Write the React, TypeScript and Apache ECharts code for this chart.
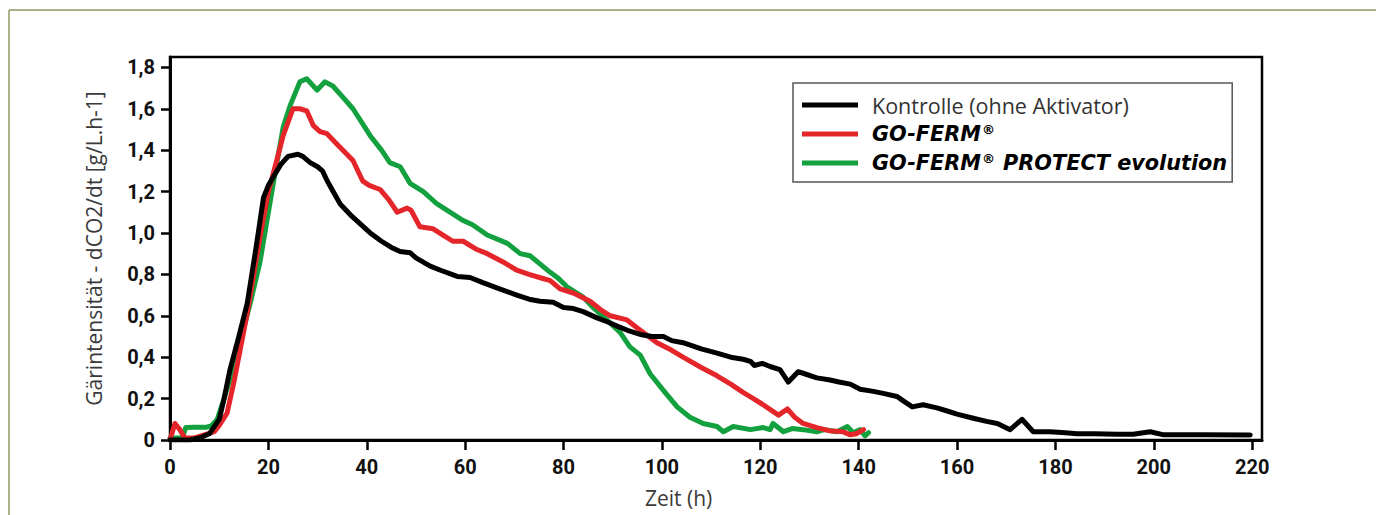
import React, { useEffect, useRef } from "react";
import * as echarts from "echarts";

const seriesNames = ["Kontrolle (ohne Aktivator)", "GO-FERM®", "GO-FERM® PROTECT evolution"];
const seriesColors = ["#000000", "#e4262a", "#13a03e"];

const xTicks = [0, 20, 40, 60, 80, 100, 120, 140, 160, 180, 200, 220];
const yTicks = [0, 0.2, 0.4, 0.6, 0.8, 1.0, 1.2, 1.4, 1.6, 1.8];

const kontrolleTime = [0, 2, 4, 6, 8, 10, 11, 12.2, 14, 15.7, 17.5, 19, 20, 21, 22.5, 24, 26, 27, 28.5, 30, 31, 32, 34.6, 37, 40.7, 43, 45, 46.8, 48.8, 50, 52.9, 55, 58.4, 61, 63.6, 67, 70.5, 73, 75.2, 77.9, 80, 82, 84, 86.8, 89, 90.9, 93, 95.6, 98, 100.3, 102, 104.3, 108, 111.2, 114, 116.5, 118, 118.8, 120.4, 122, 124, 125.7, 127.7, 129, 131.5, 134.2, 136, 138.3, 140.3, 143, 145, 147.8, 149, 150.9, 153.1, 155.9, 158, 160, 163.3, 166, 168.2, 170.8, 173.2, 175.5, 178.9, 182, 184.4, 188, 192.5, 195.8, 199.3, 202, 210, 219.6];
const kontrolleValue = [0, 0, 0, 0.01, 0.03, 0.1, 0.2, 0.34, 0.5, 0.66, 0.93, 1.17, 1.23, 1.27, 1.33, 1.37, 1.38, 1.37, 1.34, 1.32, 1.3, 1.25, 1.14, 1.08, 1.0, 0.96, 0.93, 0.91, 0.905, 0.88, 0.84, 0.82, 0.79, 0.785, 0.76, 0.73, 0.7, 0.68, 0.67, 0.665, 0.64, 0.635, 0.62, 0.59, 0.57, 0.55, 0.53, 0.51, 0.5, 0.5, 0.48, 0.47, 0.44, 0.42, 0.4, 0.39, 0.38, 0.36, 0.37, 0.355, 0.34, 0.28, 0.33, 0.32, 0.3, 0.29, 0.28, 0.27, 0.245, 0.235, 0.225, 0.21, 0.19, 0.16, 0.17, 0.155, 0.14, 0.125, 0.105, 0.09, 0.08, 0.05, 0.1, 0.04, 0.04, 0.035, 0.03, 0.03, 0.028, 0.028, 0.04, 0.025, 0.025, 0.024];

const gofermTime = [0, 1, 2, 3, 5, 7, 9, 10, 11.6, 13, 15.6, 18.3, 20, 21.7, 23, 25, 26.4, 27.8, 29.1, 30.5, 31.9, 33.9, 37.2, 39.2, 40.5, 42.7, 44.5, 46.2, 48.2, 49, 50.8, 53.5, 55.5, 57.5, 59.6, 62.4, 64.5, 67.7, 70.5, 73, 75.8, 77.3, 79.3, 82, 85.4, 87.5, 89.5, 92.9, 95.6, 99, 101.5, 104.3, 108, 111.2, 114, 116.5, 118.6, 120.6, 123.7, 125.5, 127, 128.7, 131.5, 134, 136.8, 138.3, 139.5, 141];
const gofermValue = [0, 0.08, 0.05, 0.01, 0.01, 0.025, 0.04, 0.07, 0.13, 0.28, 0.6, 0.98, 1.2, 1.35, 1.47, 1.6, 1.6, 1.59, 1.52, 1.49, 1.48, 1.43, 1.35, 1.25, 1.23, 1.21, 1.16, 1.1, 1.12, 1.11, 1.03, 1.02, 0.99, 0.96, 0.96, 0.92, 0.9, 0.86, 0.82, 0.8, 0.78, 0.77, 0.73, 0.71, 0.67, 0.63, 0.6, 0.58, 0.53, 0.47, 0.44, 0.4, 0.35, 0.31, 0.27, 0.23, 0.2, 0.17, 0.12, 0.15, 0.11, 0.08, 0.06, 0.045, 0.04, 0.025, 0.03, 0.05];

const protectTime = [0, 2.5, 3.2, 5, 7.5, 8.5, 9.6, 11, 12.8, 16.3, 18.3, 19.5, 21, 23, 24.5, 26.4, 27.8, 29.9, 31.5, 33.1, 35, 37.2, 40.7, 43, 44.7, 46.8, 48.8, 51.5, 54.3, 57, 59.6, 61.5, 64.5, 68.6, 71.2, 73.2, 77.3, 79, 80.7, 84, 86, 88.8, 91.5, 93.5, 95.6, 97.6, 100.3, 103.1, 105.7, 108.4, 111.2, 112.5, 114.5, 118, 120.6, 122, 122.6, 124.7, 126.5, 128.7, 131.5, 133, 135.6, 137.7, 138.9, 140.3, 141.3, 142];
const protectValue = [0.01, 0.01, 0.06, 0.062, 0.062, 0.07, 0.1, 0.2, 0.34, 0.66, 0.86, 1.03, 1.24, 1.51, 1.62, 1.73, 1.745, 1.69, 1.73, 1.71, 1.66, 1.6, 1.47, 1.4, 1.34, 1.32, 1.24, 1.2, 1.14, 1.1, 1.06, 1.04, 0.99, 0.95, 0.9, 0.89, 0.81, 0.78, 0.74, 0.69, 0.64, 0.58, 0.52, 0.45, 0.41, 0.32, 0.24, 0.16, 0.11, 0.08, 0.065, 0.04, 0.065, 0.05, 0.06, 0.05, 0.08, 0.04, 0.055, 0.05, 0.04, 0.05, 0.04, 0.065, 0.035, 0.05, 0.02, 0.035];

const yAxisTitle = "Gärintensität - dCO2/dt [g/L.h-1]";
const xAxisTitle = "Zeit (h)";

function pairs(t: number[], v: number[]) {
  return t.map((x, i) => [x, v[i]]);
}

function legendLabel(name: string) {
  if (name === seriesNames[0]) return `{reg|${name}}`;
  const parts = name.split("®");
  return parts.map((p, i) => (p ? `{bi|${p}}` : "") + (i < parts.length - 1 ? "{sup|®}" : "")).join("");
}

export default function App() {
  const ref = useRef<HTMLDivElement>(null);
  useEffect(() => {
    if (!ref.current) return;
    const chart = echarts.init(ref.current, null, { renderer: "svg" });
    const tickFont = { fontFamily: "Roboto", fontWeight: "bold" as const, fontSize: 20, color: "#111" };
    const datasets = [
      pairs(kontrolleTime, kontrolleValue),
      pairs(gofermTime, gofermValue),
      pairs(protectTime, protectValue),
    ];
    chart.setOption({
      animation: false,
      backgroundColor: "#ffffff",
      grid: { left: 170, right: 124, top: 57, bottom: 75, show: true, borderColor: "#000", borderWidth: 2.5, backgroundColor: "transparent" },
      xAxis: {
        type: "value",
        min: 0,
        max: 222,
        splitLine: { show: false },
        axisLine: { show: true, onZero: false, lineStyle: { color: "#000", width: 3 } },
        axisTick: { show: true, length: 10, lineStyle: { color: "#000", width: 2.5 }, customValues: xTicks },
        axisLabel: { ...tickFont, margin: 17, customValues: xTicks, formatter: (v: number) => String(v) },
      },
      yAxis: {
        type: "value",
        min: 0,
        max: 1.85,
        splitLine: { show: false },
        axisLine: { show: true, onZero: false, lineStyle: { color: "#000", width: 3 } },
        axisTick: { show: true, length: 9, lineStyle: { color: "#000", width: 2.5 }, customValues: yTicks },
        axisLabel: {
          ...tickFont,
          margin: 15,
          customValues: yTicks,
          formatter: (v: number) => (v === 0 ? "0" : v.toFixed(1).replace(".", ",")),
        },
        name: yAxisTitle,
        nameLocation: "middle",
        nameGap: 66,
        nameRotate: 90,
        nameTextStyle: { fontFamily: "Open Sans", fontSize: 21, color: "#3a3a3a" },
      },
      legend: {
        orient: "vertical",
        left: 793,
        top: 83,
        padding: [11, 5, 8, 9],
        itemGap: 7,
        itemWidth: 56,
        itemHeight: 5,
        icon: "rect",
        borderColor: "#555",
        borderWidth: 1.5,
        backgroundColor: "#fff",
        data: seriesNames,
        formatter: legendLabel,
        textStyle: {
          padding: [0, 0, 0, 9],
          rich: {
            reg: { fontFamily: "Open Sans", fontSize: 21.5, color: "#333", lineHeight: 22 },
            bi: { fontFamily: "DejaVu Sans", fontSize: 20.8, fontWeight: "bold", fontStyle: "italic", color: "#000", lineHeight: 22 },
            sup: { fontFamily: "DejaVu Sans", fontSize: 13, fontWeight: "bold", color: "#000", lineHeight: 22, padding: [0, 1, 9, 1] },
          },
        },
      },
      graphic: [
        { type: "line", shape: { x1: 9, y1: 10, x2: 1376, y2: 10 }, style: { stroke: "#8c9a63", lineWidth: 1.5 } },
        { type: "line", shape: { x1: 9, y1: 10, x2: 9, y2: 515 }, style: { stroke: "#8c9a63", lineWidth: 1.5 } },
        {
          type: "text",
          left: 645,
          top: 487,
          style: { text: xAxisTitle, fontFamily: "Open Sans", fontSize: 21, fill: "#3a3a3a" },
        },
      ],
      series: datasets.map((d, i) => ({
        name: seriesNames[i],
        type: "line",
        data: d,
        showSymbol: false,
        symbol: "none",
        color: seriesColors[i],
        lineStyle: { color: seriesColors[i], width: 5, join: "round", cap: "round" },
        z: 3 - i,
      })),
    });
    return () => chart.dispose();
  }, []);
  return <div ref={ref} style={{ position: "fixed", left: 0, top: 0, width: 1386, height: 515 }} />;
}
